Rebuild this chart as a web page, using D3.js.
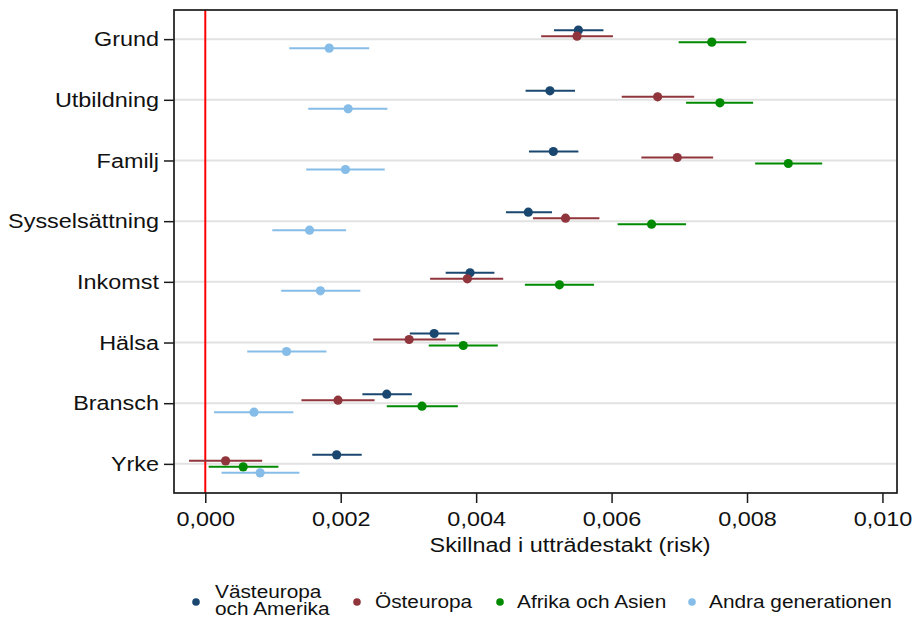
<!DOCTYPE html>
<html>
<head>
<meta charset="utf-8">
<script src="https://cdn.jsdelivr.net/npm/d3@7"></script>
<style>
  html, body { margin: 0; padding: 0; background: #fff; }
  svg { display: block; font-family: "Liberation Sans", Arial, Helvetica, sans-serif; }
</style>
</head>
<body>
<svg id="chart" width="919" height="620"></svg>
<script>
// ---- Data (values in risk units) ----
const categories = ["Grund", "Utbildning", "Familj", "Sysselsättning", "Inkomst", "Hälsa", "Bransch", "Yrke"];
const seriesNames = ["Västeuropa och Amerika", "Östeuropa", "Afrika och Asien", "Andra generationen"];
const legendLines = [["Västeuropa", "och Amerika"], ["Östeuropa"], ["Afrika och Asien"], ["Andra generationen"]];
const seriesColors = ["#1a476f", "#90353b", "#008a00", "#86bde8"];

// point estimates (x 0.001)
const vastEst  = [5.51, 5.09, 5.14, 4.77, 3.91, 3.38, 2.68, 1.94];
const vastLo   = [5.15, 4.73, 4.78, 4.44, 3.55, 3.02, 2.32, 1.58];
const vastHi   = [5.88, 5.46, 5.51, 5.12, 4.27, 3.75, 3.05, 2.31];

const ostEst   = [5.49, 6.68, 6.97, 5.32, 3.87, 3.01, 1.96, 0.30];
const ostLo    = [4.96, 6.15, 6.44, 4.84, 3.32, 2.48, 1.42, -0.24];
const ostHi    = [6.02, 7.22, 7.50, 5.82, 4.40, 3.55, 2.50, 0.84];

const afrEst   = [7.48, 7.60, 8.61, 6.59, 5.23, 3.81, 3.20, 0.56];
const afrLo    = [6.99, 7.10, 8.12, 6.09, 4.72, 3.30, 2.68, 0.05];
const afrHi    = [7.99, 8.09, 9.11, 7.10, 5.74, 4.32, 3.73, 1.08];

const andEst   = [1.83, 2.11, 2.07, 1.54, 1.70, 1.20, 0.72, 0.81];
const andLo    = [1.24, 1.52, 1.49, 0.99, 1.12, 0.62, 0.13, 0.24];
const andHi    = [2.42, 2.69, 2.65, 2.08, 2.29, 1.79, 1.30, 1.39];

const xTicks = [0, 0.002, 0.004, 0.006, 0.008, 0.010];
const xTitle = "Skillnad i utträdestakt (risk)";
const seriesOffsets = [-9, -3, 3, 9];

const seriesData = [
  [vastEst, vastLo, vastHi],
  [ostEst, ostLo, ostHi],
  [afrEst, afrLo, afrHi],
  [andEst, andLo, andHi]
];

// ---- Layout ----
const svg = d3.select("#chart");
const plot = { left: 174, right: 897, top: 10, bottom: 493 };
const STRETCH = 1.17;

const x = d3.scaleLinear().domain([-0.000462, 0.010215]).range([plot.left, plot.right]);
const y = d3.scalePoint().domain(categories).range([plot.top, plot.bottom]).padding(0.48);

function stretch(sel, f) {
  sel.each(function() {
    const len = this.getComputedTextLength();
    d3.select(this).attr("textLength", len * f).attr("lengthAdjust", "spacingAndGlyphs");
  });
}

// gridlines
svg.append("g").selectAll("line").data(categories).join("line")
  .attr("x1", plot.left).attr("x2", plot.right)
  .attr("y1", d => y(d)).attr("y2", d => y(d))
  .attr("stroke", "#e2e2e2").attr("stroke-width", 2);

// zero line
svg.append("line")
  .attr("x1", x(0)).attr("x2", x(0))
  .attr("y1", plot.top).attr("y2", plot.bottom)
  .attr("stroke", "#ff0000").attr("stroke-width", 2);

// series
seriesData.forEach((s, si) => {
  const [est, lo, hi] = s;
  const g = svg.append("g");
  const rows = categories.map((c, i) => ({ c, est: est[i] / 1000, lo: lo[i] / 1000, hi: hi[i] / 1000 }));
  g.selectAll("line").data(rows).join("line")
    .attr("x1", d => x(d.lo)).attr("x2", d => x(d.hi))
    .attr("y1", d => y(d.c) + seriesOffsets[si]).attr("y2", d => y(d.c) + seriesOffsets[si])
    .attr("stroke", seriesColors[si]).attr("stroke-width", 2);
  g.selectAll("circle").data(rows).join("circle")
    .attr("cx", d => x(d.est)).attr("cy", d => y(d.c) + seriesOffsets[si])
    .attr("r", 4.6).attr("fill", seriesColors[si]);
});

// frame
svg.append("rect")
  .attr("x", plot.left).attr("y", plot.top)
  .attr("width", plot.right - plot.left).attr("height", plot.bottom - plot.top)
  .attr("fill", "none").attr("stroke", "#1a1a1a").attr("stroke-width", 1.7);

// y axis
const yAxis = svg.append("g").attr("transform", `translate(${plot.left},0)`)
  .call(d3.axisLeft(y).tickSize(10).tickPadding(5));
yAxis.select(".domain").remove();
yAxis.selectAll(".tick line").attr("stroke", "#1a1a1a").attr("stroke-width", 1.5);
yAxis.selectAll(".tick text").attr("font-size", 20).attr("fill", "#111")
  .attr("font-family", "Liberation Sans, Arial, sans-serif").attr("dy", "0.33em");
stretch(yAxis.selectAll(".tick text"), STRETCH);

// x axis
const xAxis = svg.append("g").attr("transform", `translate(0,${plot.bottom})`)
  .call(d3.axisBottom(x).tickValues(xTicks).tickSize(10).tickPadding(0)
    .tickFormat(d => d3.format(".3f")(d).replace(".", ",")));
xAxis.select(".domain").remove();
xAxis.selectAll(".tick line").attr("stroke", "#1a1a1a").attr("stroke-width", 1.5);
xAxis.selectAll(".tick text").attr("font-size", 20).attr("fill", "#111")
  .attr("font-family", "Liberation Sans, Arial, sans-serif")
  .attr("y", 33).attr("dy", null);
stretch(xAxis.selectAll(".tick text"), STRETCH);

// x title
const xt = svg.append("text").attr("x", 570).attr("y", 552)
  .attr("text-anchor", "middle").attr("font-size", 20).attr("fill", "#111")
  .text(xTitle);
stretch(xt, STRETCH);

// legend
const legendDotX = [196, 357, 500, 692];
const legendTextX = [215, 375, 517, 709];
const legend = svg.append("g");
seriesNames.forEach((name, i) => {
  legend.append("circle").attr("cx", legendDotX[i]).attr("cy", 602)
    .attr("r", 3.8).attr("fill", seriesColors[i]);
  const lines = legendLines[i];
  const baseY = lines.length === 1 ? 608 : 598;
  const t = legend.append("text")
    .attr("transform", `translate(${legendTextX[i]},${baseY}) scale(1.19,1)`)
    .attr("font-size", 17.5).attr("fill", "#111");
  t.selectAll("tspan").data(lines).join("tspan")
    .attr("x", 0).attr("y", (d, j) => j * 17.5)
    .text(d => d);
});
</script>
</body>
</html>
